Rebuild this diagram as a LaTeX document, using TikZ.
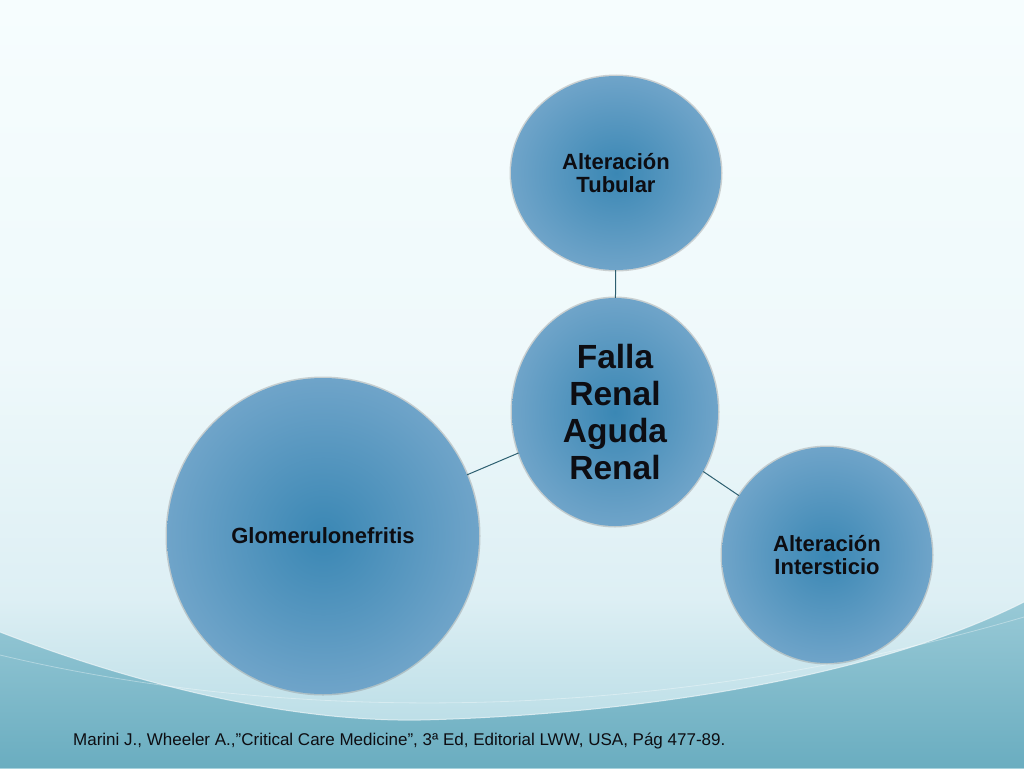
\documentclass[tikz,border=0pt]{standalone}
\usepackage{fontspec}
\setmainfont{Liberation Sans}
\usetikzlibrary{shapes.geometric}
\definecolor{bubin}{HTML}{3A87B4}
\definecolor{bubout}{HTML}{6FA4C9}
\definecolor{bgA}{HTML}{F6FDFE}
\definecolor{bgB}{HTML}{EFF9FB}
\definecolor{bgC}{HTML}{DDEFF4}
\definecolor{bgD}{HTML}{B0D8E2}
\definecolor{tealA}{HTML}{98C9D6}
\definecolor{tealB}{HTML}{6AADC0}
\definecolor{connc}{HTML}{2D5F70}
\definecolor{txt}{HTML}{0D0D12}
\pgfdeclareradialshading{bubsh}{\pgfpoint{0bp}{0bp}}{color(0bp)=(bubin); color(25bp)=(bubout); color(50bp)=(bubout)}
\pgfdeclareverticalshading{bgsh}{100bp}{color(0bp)=(bgD); color(25bp)=(bgD); color(36bp)=(bgC); color(52bp)=(bgB); color(75bp)=(bgA); color(100bp)=(bgA)}
\tikzset{
  bubble/.style={ellipse, inner sep=0pt, shade, shading=bubsh,
    preaction={draw=gray, draw opacity=0.35, line width=3pt},
    text=txt, font=\bfseries\fontsize{22}{23.5}\selectfont, align=center},
  bigtext/.style={font=\bfseries\fontsize{33.5}{37}\selectfont},
  conn/.style={draw=connc, line width=1pt},
  cite/.style={anchor=base west, inner sep=0pt, text=txt, font=\fontsize{17}{20}\selectfont}
}
\begin{document}
\begin{tikzpicture}[x=1pt,y=-1pt]
\useasboundingbox (0,0) rectangle (1024,768);
\shade[shading=bgsh] (0,0) rectangle (1024,768);
\shade[top color=tealA, bottom color=tealB] (0,632) .. controls (150,690) and (300,722) .. (420,720) .. controls (600,716) and (860,685) .. (1024,602) -- (1024,768) -- (0,768) -- cycle;
\draw[white, opacity=0.6, line width=1pt] (0,632) .. controls (150,690) and (300,722) .. (420,720) .. controls (600,716) and (860,685) .. (1024,602);
\draw[white, opacity=0.35, line width=0.8pt] (0,655) .. controls (250,715) and (620,735) .. (1024,617);

\node[bubble, minimum width=210, minimum height=194] (tub) at (616,173) {Alteración\\Tubular};
\node[bubble, bigtext, minimum width=206, minimum height=228] (falla) at (615,412) {Falla\\Renal\\Aguda\\Renal};
\node[bubble, minimum width=312, minimum height=316] (glom) at (323,536) {Glomerulonefritis};
\node[bubble, minimum width=210, minimum height=216] (inter) at (827,555) {Alteración\\Intersticio};

\draw[conn] (tub) -- (falla);
\draw[conn] (glom) -- (falla);
\draw[conn] (falla) -- (inter);

\node[cite] (ref) at (73,745) {Marini J., Wheeler A.,”Critical Care Medicine”, 3ª Ed, Editorial LWW, USA, Pág 477-89.};
\end{tikzpicture}
\end{document}
